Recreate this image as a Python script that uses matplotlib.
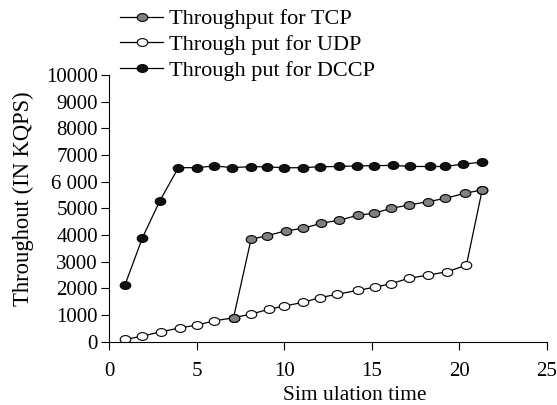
import matplotlib
matplotlib.use('Agg')
import matplotlib.pyplot as plt
from matplotlib.path import Path
from matplotlib.transforms import Affine2D

# values
tcp_x = [7.1, 8.1, 9.0, 10.1, 11.06, 12.1, 13.15, 14.2, 15.1, 16.1, 17.1, 18.2, 19.2, 20.3, 21.3]
tcp_y = [900, 3840, 3975, 4160, 4250, 4440, 4560, 4740, 4815, 5000, 5125, 5250, 5375, 5565, 5690]

udp_x = [0.9, 1.9, 2.95, 4.06, 5.0, 6.0, 7.1, 8.1, 9.1, 10.0, 11.06, 12.05, 13.0, 14.2, 15.2,
         16.1, 17.1, 18.2, 19.3, 20.4, 21.3]
udp_y = [90, 214, 375, 525, 626, 787, 900, 1040, 1215, 1340, 1477, 1660, 1777, 1930, 2050,
         2180, 2377, 2500, 2625, 2875, 5690]

dccp_x = [0.9, 1.9, 2.9, 3.95, 5.0, 6.0, 7.0, 8.1, 9.0, 10.0, 11.05, 12.05, 13.1, 14.15, 15.1,
          16.2, 17.2, 18.3, 19.2, 20.2, 21.3]
dccp_y = [2126, 3900, 5290, 6525, 6525, 6590, 6530, 6560, 6560, 6520, 6525, 6560, 6570, 6590, 6600,
          6610, 6570, 6570, 6570, 6660, 6730]

labels = ['Throughput for TCP', 'Through put for UDP', 'Through put for DCCP']
xticks = [0, 5, 10, 15, 20, 25]
yticks = [0, 1000, 2000, 3000, 4000, 5000, 6000, 7000, 8000, 9000, 10000]
ytick_labels = ['0', '1000', '2000', '3000', '4000', '5000', '6 000', '7000', '8000', '9000', '10000']

plt.rcParams['font.family'] = ['Liberation Serif', 'DejaVu Serif']

# slightly flattened circle, like the markers in the original
ellipse = Path.unit_circle().transformed(Affine2D().scale(1.35, 1.0))

fig = plt.figure(figsize=(5.57, 4.05), dpi=100)
ax = fig.add_axes([0.196, 0.156, 0.786, 0.659])

common = dict(color='black', linewidth=0.9, marker=ellipse, markersize=7.6,
              markeredgecolor='black', markeredgewidth=0.8)
l_udp, = ax.plot(udp_x, udp_y, markerfacecolor='white', zorder=2, **common)
l_tcp, = ax.plot(tcp_x, tcp_y, markerfacecolor='#808080', zorder=3, **common)
l_dccp, = ax.plot(dccp_x, dccp_y, markerfacecolor='#111111', zorder=4, **common)

ax.set_xlim(0, 25)
ax.set_ylim(0, 10000)
ax.set_xticks(xticks)
ax.set_yticks(yticks)
ax.set_yticklabels(ytick_labels)
ax.tick_params(axis='y', direction='out', length=6, width=0.8, labelsize=15, pad=2)
ax.tick_params(axis='x', direction='out', length=5.5, width=0.8, labelsize=15, pad=9)

for s in ['top', 'right']:
    ax.spines[s].set_visible(False)
for s in ['left', 'bottom']:
    ax.spines[s].set_linewidth(0.8)

ax.set_xlabel('Sim ulation time', fontsize=15.5)
ax.xaxis.set_label_coords(0.561, -0.164)
ax.set_ylabel('Throughout (IN KQPS)', fontsize=16.3)
ax.yaxis.set_label_coords(-0.172, 0.535)

ax.legend([l_tcp, l_udp, l_dccp], labels, loc='upper left',
          bbox_to_anchor=(120 / 557, 0.978), bbox_transform=fig.transFigure,
          frameon=False, fontsize=16, handlelength=1.95, handletextpad=0.25,
          labelspacing=0.23, borderpad=0, borderaxespad=0)

fig.savefig('out.png', dpi=100)
